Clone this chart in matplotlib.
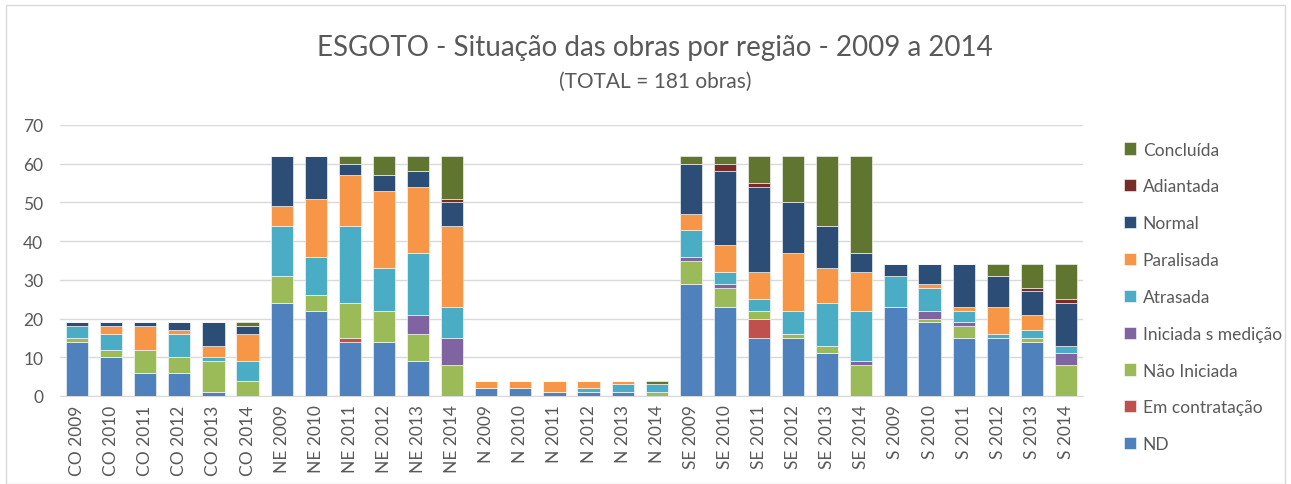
import numpy as np
import matplotlib.pyplot as plt
from matplotlib.patches import Rectangle

plt.rcParams['font.family'] = ['Lato', 'DejaVu Sans']

# Categories
labels = ["CO 2009", "CO 2010", "CO 2011", "CO 2012", "CO 2013", "CO 2014",
          "NE 2009", "NE 2010", "NE 2011", "NE 2012", "NE 2013", "NE 2014",
          "N 2009", "N 2010", "N 2011", "N 2012", "N 2013", "N 2014",
          "SE 2009", "SE 2010", "SE 2011", "SE 2012", "SE 2013", "SE 2014",
          "S 2009", "S 2010", "S 2011", "S 2012", "S 2013", "S 2014"]

# Series values (stack order bottom to top)
nd = [14, 10, 6, 6, 1, 0,
      24, 22, 14, 14, 9, 0,
      2, 2, 1, 1, 1, 0,
      29, 23, 15, 15, 11, 0,
      23, 19, 15, 15, 14, 0]
em_contratacao = [0, 0, 0, 0, 0, 0,
                  0, 0, 1, 0, 0, 0,
                  0, 0, 0, 0, 0, 0,
                  0, 0, 5, 0, 0, 0,
                  0, 0, 0, 0, 0, 0]
nao_iniciada = [1, 2, 6, 4, 8, 4,
                7, 4, 9, 8, 7, 8,
                0, 0, 0, 0, 0, 1,
                6, 5, 2, 1, 2, 8,
                0, 1, 3, 0, 1, 8]
iniciada_s_medicao = [0, 0, 0, 0, 0, 0,
                      0, 0, 0, 0, 5, 7,
                      0, 0, 0, 0, 0, 0,
                      1, 1, 0, 0, 0, 1,
                      0, 2, 1, 0, 0, 3]
atrasada = [3, 4, 0, 6, 1, 5,
            13, 10, 20, 11, 16, 8,
            0, 0, 0, 1, 2, 2,
            7, 3, 3, 6, 11, 13,
            8, 6, 3, 1, 2, 2]
paralisada = [0, 2, 6, 1, 3, 7,
              5, 15, 13, 20, 17, 21,
              2, 2, 3, 2, 1, 0,
              4, 7, 7, 15, 9, 10,
              0, 1, 1, 7, 4, 0]
normal = [1, 1, 1, 2, 6, 2,
          13, 11, 3, 4, 4, 6,
          0, 0, 0, 0, 0, 0,
          13, 19, 22, 13, 11, 5,
          3, 5, 11, 8, 6, 11]
adiantada = [0, 0, 0, 0, 0, 0,
             0, 0, 0, 0, 0, 1,
             0, 0, 0, 0, 0, 0,
             0, 2, 1, 0, 0, 0,
             0, 0, 0, 0, 1, 1]
concluida = [0, 0, 0, 0, 0, 1,
             0, 0, 2, 5, 4, 11,
             0, 0, 0, 0, 0, 1,
             2, 2, 7, 12, 18, 25,
             0, 0, 0, 3, 6, 9]

series = [
    ("ND", nd, "#4F81BD"),
    ("Em contratação", em_contratacao, "#C0504D"),
    ("Não Iniciada", nao_iniciada, "#9BBB59"),
    ("Iniciada s medição", iniciada_s_medicao, "#8064A2"),
    ("Atrasada", atrasada, "#4BACC6"),
    ("Paralisada", paralisada, "#F79646"),
    ("Normal", normal, "#2C4D75"),
    ("Adiantada", adiantada, "#772C2A"),
    ("Concluída", concluida, "#5F7530"),
]

fig = plt.figure(figsize=(12.91, 4.85), dpi=100)
ax = fig.add_axes([60 / 1291, 1 - 397 / 485, 1023 / 1291, 271 / 485])

x = np.arange(len(labels))
bottom = np.zeros(len(labels))
handles = []
for name, vals, col in series:
    vals = np.array(vals, dtype=float)
    b = ax.bar(x, vals, 0.65, bottom=bottom, color=col, label=name,
               edgecolor="white", linewidth=0.4, zorder=3)
    handles.append(b)
    bottom += vals

ax.set_xlim(-0.5, len(labels) - 0.5)
ax.set_ylim(0, 70)
ax.set_yticks(range(0, 71, 10))
ax.yaxis.grid(True, color="#D9D9D9", linewidth=1, zorder=0)
ax.set_xticks(x)
ax.set_xticklabels(labels, rotation=90, fontsize=12.5, color="#595959")
ax.tick_params(axis="y", labelsize=12.5, colors="#595959", length=0, pad=12)
ax.tick_params(axis="x", length=0, pad=6)
for s in ["top", "right", "left"]:
    ax.spines[s].set_visible(False)
ax.spines["bottom"].set_color("#D9D9D9")

fig.text(655 / 1291, 1 - 48 / 485, "ESGOTO - Situação das obras por região - 2009 a 2014",
         ha="center", va="center", fontsize=20, color="#595959")
fig.text(655 / 1291, 1 - 82 / 485, "(TOTAL = 181 obras)",
         ha="center", va="center", fontsize=15, color="#595959")

leg = fig.legend(handles[::-1], [s[0] for s in series][::-1],
                 loc="upper left", bbox_to_anchor=(1108 / 1291, 1 - 127 / 485),
                 frameon=False, fontsize=12.5, labelspacing=1.2,
                 handlelength=0.7, handleheight=0.7, handletextpad=0.4)
for t in leg.get_texts():
    t.set_color("#595959")

# chart border
fig.patches.append(Rectangle((6 / 1291, 0), 1 - 12 / 1291, 1 - 6 / 485,
                             transform=fig.transFigure, fill=False,
                             edgecolor="#D9D9D9", linewidth=1))

fig.savefig("out.png", dpi=100)
